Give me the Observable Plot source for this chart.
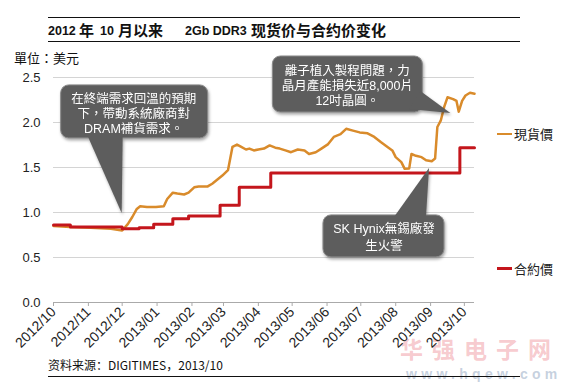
<!DOCTYPE html>
<html><head><meta charset="utf-8">
<script src="https://cdn.jsdelivr.net/npm/d3@7"></script>
<script src="https://cdn.jsdelivr.net/npm/@observablehq/plot@0.6"></script>
<style>
body{margin:0;background:#fff;}
#wrap{position:relative;width:565px;height:383px;overflow:hidden;font-family:"Liberation Sans","Noto Sans CJK TC",sans-serif;color:#222;}
.rule{position:absolute;left:48px;width:472px;height:0;border-top:1.5px solid #111;}
.t{position:absolute;top:21px;font-weight:bold;white-space:nowrap;color:#111;}
.cjk{font-family:"Noto Sans CJK SC",sans-serif;font-size:15px;line-height:18px;}
.lat{font-family:"Liberation Sans",sans-serif;font-size:12.5px;line-height:18px;top:22px;}
#unit{position:absolute;left:14px;top:48px;font-family:"Noto Sans CJK TC",sans-serif;font-size:13px;color:#111;z-index:2;}
#chart{position:absolute;left:0;top:45px;z-index:1;}
.leg{position:absolute;left:497px;font-family:"Noto Sans CJK TC",sans-serif;font-size:13px;color:#222;display:flex;align-items:center;}
.leg i{display:inline-block;width:15px;margin-right:2px;}
#caption{position:absolute;left:48px;top:356px;font-family:"Noto Sans CJK SC",sans-serif;font-size:12px;color:#111;}
#wm1{position:absolute;left:400px;top:336px;line-height:24px;height:24px;font-family:"Noto Sans CJK SC",sans-serif;font-weight:bold;font-size:23px;color:rgba(236,120,130,0.4);letter-spacing:9px;}
#wm2{position:absolute;left:406px;top:368px;line-height:13px;height:13px;font-family:"Liberation Sans",sans-serif;font-weight:bold;font-size:14px;color:rgba(150,170,195,0.55);letter-spacing:4.3px;}
</style></head><body>
<div id="wrap">
  <div class="rule" style="top:17px"></div>
  <span class="t lat" style="left:48px">2012</span>
  <span class="t cjk" style="left:79px">年</span>
  <span class="t lat" style="left:100px">10</span>
  <span class="t cjk" style="left:118px">月以来</span>
  <span class="t lat" style="left:185px">2Gb DDR3</span>
  <span class="t cjk" style="left:251px">现货价与合约价变化</span>
  <div class="rule" style="top:41px"></div>
  <div id="unit">單位：美元</div>
  <div id="chart"></div>
  <div class="leg" style="top:124px"><i style="border-top:2.5px solid #d98b2b"></i>現貨價</div>
  <div class="leg" style="top:259px"><i style="border-top:3px solid #c4161c"></i>合約價</div>
  <div id="wm1">华强电子网</div>
  <div id="wm2">www.hqew.com</div>
  <div id="caption">资料来源：DIGITIMES，2013/10</div>
  <div class="rule" style="top:376px;height:0"></div>
</div>
<script>
// ---- data ----
const spotDates = ["2012-10-01","2012-10-16","2012-11-03","2012-11-21","2012-12-01","2012-12-06","2012-12-10","2012-12-14","2012-12-17","2012-12-23","2012-12-31","2013-01-07","2013-01-10","2013-01-15","2013-01-19","2013-01-25","2013-01-29","2013-02-03","2013-02-07","2013-02-15","2013-02-19","2013-02-22","2013-02-28","2013-03-05","2013-03-09","2013-03-13","2013-03-16","2013-03-21","2013-03-24","2013-03-28","2013-04-01","2013-04-06","2013-04-11","2013-04-16","2013-04-20","2013-04-25","2013-04-30","2013-05-06","2013-05-12","2013-05-16","2013-05-22","2013-05-27","2013-06-02","2013-06-07","2013-06-13","2013-06-18","2013-06-24","2013-06-30","2013-07-07","2013-07-13","2013-07-19","2013-07-25","2013-07-29","2013-08-01","2013-08-06","2013-08-09","2013-08-13","2013-08-15","2013-08-19","2013-08-24","2013-08-28","2013-09-02","2013-09-05","2013-09-07","2013-09-10","2013-09-13","2013-09-16","2013-09-21","2013-09-24","2013-09-26","2013-09-29","2013-10-02","2013-10-06","2013-10-10"];
const spotValues = [0.85,0.84,0.83,0.82,0.80,0.87,0.95,1.04,1.07,1.06,1.06,1.07,1.15,1.22,1.21,1.20,1.22,1.28,1.29,1.29,1.32,1.35,1.41,1.47,1.73,1.755,1.735,1.70,1.71,1.69,1.70,1.71,1.745,1.72,1.71,1.69,1.67,1.70,1.69,1.65,1.67,1.71,1.76,1.84,1.87,1.93,1.91,1.89,1.88,1.84,1.78,1.725,1.69,1.615,1.56,1.485,1.49,1.65,1.63,1.615,1.58,1.57,1.60,1.95,2.02,2.17,2.28,2.26,2.24,2.12,2.24,2.30,2.33,2.32];
const contractDates = ["2012-10-01","2012-10-16","2012-12-01","2012-12-16","2012-12-29","2013-01-15","2013-01-29","2013-02-26","2013-03-15","2013-04-12","2013-09-27","2013-10-10"];
const contractValues = [0.86,0.84,0.82,0.83,0.87,0.93,0.96,1.08,1.28,1.44,1.72,1.72];
const monthLabels = ["2012/10","2012/11","2012/12","2013/01","2013/02","2013/03","2013/04","2013/05","2013/06","2013/07","2013/08","2013/09","2013/10"];
const yTicks = [0,0.5,1,1.5,2,2.5];
const xDomain = ["2012-10-01","2013-10-10"];
const calloutLines = [
  ["在終端需求回溫的預期","下，帶動系統廠商對","DRAM補貨需求。"],
  ["離子植入製程問題，力","晶月產能損失近8,000片","12吋晶圓。"],
  ["SK Hynix無錫廠發","生火警"]
];
const calloutDates = ["2012-12-01","2013-09-19","2013-08-31"];
const calloutValues = [0.99,2.10,1.49];

// ---- layout (pixel offsets of callout boxes relative to their anchor) ----
const calloutLayout = [
  {x:-61,y:-128,w:147,h:53,p:[[-34,-77],[1,-77]],tx:12,ty:[-110,-95,-80]},
  {x:-178,y:-57,w:150,h:56,p:[[-41,-4],[-30,-22]],tx:-103,ty:[-38,-23,-8]},
  {x:-106,y:47,w:121,h:42,p:[[-35,49],[-3,49]],tx:-45,ty:[65,82]}
];

const parse = s => new Date(s + "T00:00:00Z");
const spot = spotDates.map((d,i)=>({date:parse(d), value:spotValues[i]}));
const contract = contractDates.map((d,i)=>({date:parse(d), value:contractValues[i]}));
const tickDates = monthLabels.map(l => parse(l.replace("/","-") + "-01"));

function callouts(index, scales) {
  const g = d3.create("svg:g");
  calloutLayout.forEach((L,i) => {
    const ax = scales.x(parse(calloutDates[i])), ay = scales.y(calloutValues[i]);
    const gi = g.append("g").attr("transform",`translate(${ax},${ay})`)
      .style("filter","drop-shadow(1px 2px 1.5px rgba(0,0,0,0.35))");
    gi.append("rect").attr("x",L.x).attr("y",L.y).attr("width",L.w).attr("height",L.h)
      .attr("rx",8).attr("fill","#5d5d5d").attr("stroke","#8a8a8a").attr("stroke-width",1);
    gi.append("path").attr("d",`M${L.p[0][0]},${L.p[0][1]}L${L.p[1][0]},${L.p[1][1]}L0,0Z`)
      .attr("fill","#5d5d5d");
    calloutLines[i].forEach((t,j) => {
      gi.append("text").attr("x",L.tx).attr("y",L.ty[j]).attr("text-anchor","middle")
        .attr("fill","#fff").attr("font-size",12.5)
        .attr("font-family","'Liberation Sans','Noto Sans CJK TC',sans-serif").text(t);
    });
  });
  return g.node();
}

const chart = Plot.plot({
  width: 565, height: 307,
  marginLeft: 53, marginRight: 91, marginTop: 32, marginBottom: 50,
  style: {fontFamily: "'Liberation Sans', sans-serif", fontSize: "13px", color: "#222", background: "transparent", overflow: "visible"},
  x: {type: "utc", domain: xDomain.map(parse), label: null},
  y: {domain: [0, 2.5], label: null},
  marks: [
    Plot.gridY(yTicks.slice(1), {stroke: "#d4d4d4", strokeOpacity: 1}),
    Plot.ruleY([0], {stroke: "#aaa"}),
    Plot.axisY(yTicks, {tickSize: 0, tickPadding: 13, tickFormat: d => d.toFixed(1), fontSize: 13, label: null}),
    Plot.axisX(tickDates, {tickSize: 4, tickPadding: 3, tickRotate: -45, stroke: "#aaa", tickFormat: (d) => monthLabels[tickDates.findIndex(t => +t === +d)], fontSize: 14, label: null}),
    Plot.line(spot, {x: "date", y: "value", stroke: "#d98b2b", strokeWidth: 2.5}),
    Plot.line(contract, {x: "date", y: "value", curve: "step-after", stroke: "#c4161c", strokeWidth: 3}),
    callouts
  ]
});
document.getElementById("chart").appendChild(chart);
</script>
</body></html>
